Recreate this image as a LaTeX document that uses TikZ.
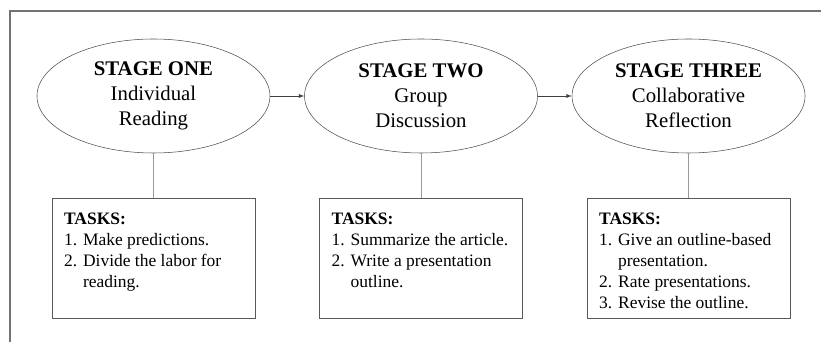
\documentclass[tikz,border=0pt]{standalone}
\usepackage{fontspec}
\setmainfont{Liberation Serif}
\usepackage{tikz}
\usetikzlibrary{arrows,shapes.geometric}
\usetikzlibrary{positioning}

\newcommand{\tasklist}[1]{\parbox[c][69pt][t]{134pt}{\raggedright\fontsize{13.1}{15.75}\selectfont\textbf{TASKS:}\\#1}}

\begin{document}
\begin{tikzpicture}[-,auto,semithick]
				\tikzstyle{stage}=[ellipse, draw=black!70, thin, minimum width=174.75pt, minimum height=85.5pt, inner sep=0pt, align=center, font=\fontsize{15.6}{18.75}\selectfont]
				\tikzstyle{taskbox}=[rectangle, draw=black!65, thin, inner xsep=9pt, inner ysep=10.5pt]
				\tikzstyle{flow}=[-latex, black!75, thin]
				\tikzstyle{link}=[black!40, thin]
				\useasboundingbox (0,0) rectangle (615.75pt,256.5pt);
				\draw[black!55, line width=0.8pt] (7.5pt,0) |- (615.75pt,248.25pt);
						\node[stage] (one) at (115.1pt,184.5pt) {\textbf{STAGE ONE}\\Individual\\Reading};
						\node[stage] (two) [right=25.5pt of one] {\textbf{STAGE TWO}\\Group\\Discussion};
						\node[stage] (three) [right=25.5pt of two] {\textbf{STAGE THREE}\\Collaborative\\Reflection};
						\node[taskbox] (taskone) [below=33.75pt of one] {\tasklist{1. Make predictions.\\2. Divide the labor for\\\hphantom{2. }reading.}};
						\node[taskbox] (tasktwo) [below=33.75pt of two] {\tasklist{1. Summarize the article.\\2. Write a presentation\\\hphantom{2. }outline.}};
						\node[taskbox] (taskthree) [below=33.75pt of three] {\tasklist{1. Give an outline-based\\\hphantom{1. }presentation.\\2. Rate presentations.\\3. Revise the outline.}};
						
						\path
							(one) edge[flow] (two)
							(two) edge[flow] (three)
							(one) edge[link] (taskone)
							(two) edge[link] (tasktwo)
							(three) edge[link] (taskthree);
			
\end{tikzpicture}
\end{document}
